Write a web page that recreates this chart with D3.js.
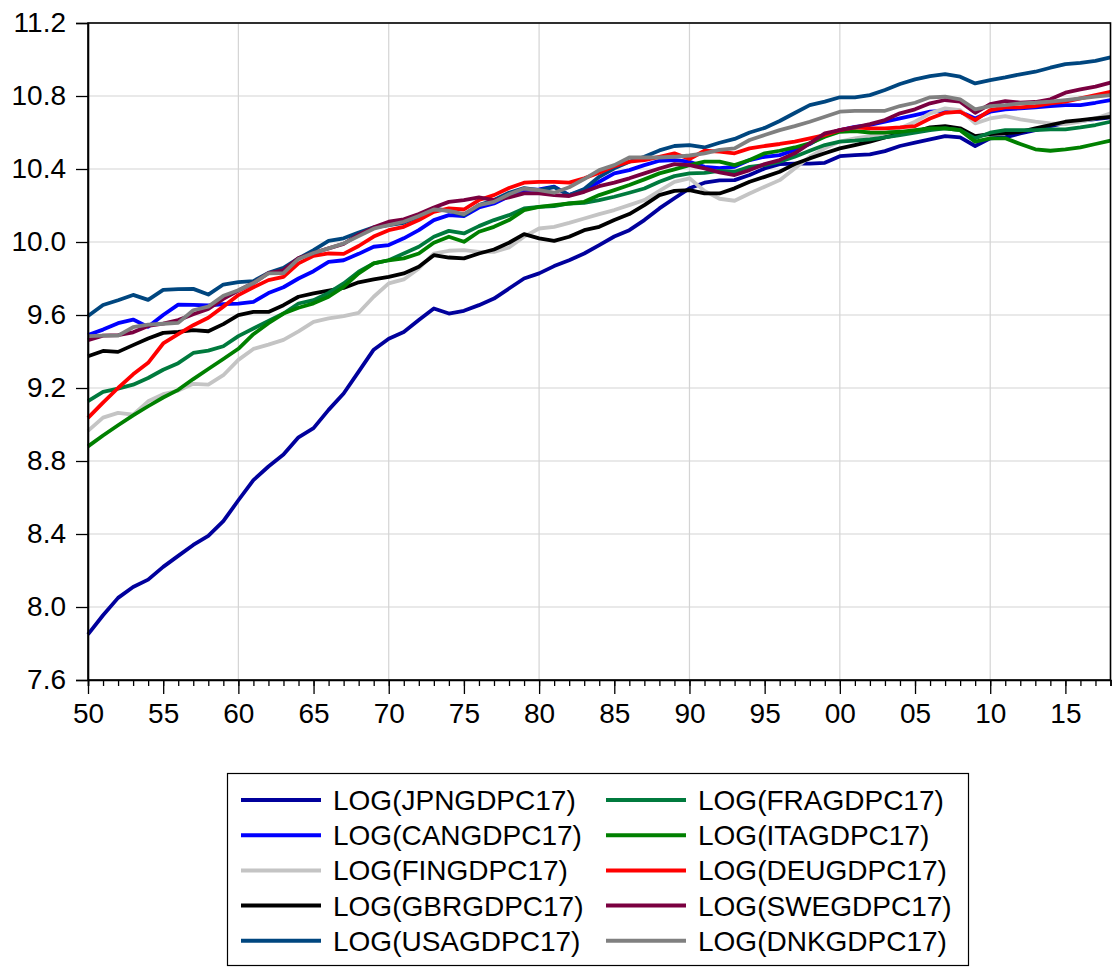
<!DOCTYPE html>
<html>
<head>
<meta charset="utf-8">
<script src="https://cdn.jsdelivr.net/npm/d3@7/dist/d3.min.js"></script>
<style>
  html, body { margin: 0; padding: 0; background: #fff; }
  svg { display: block; font-family: "Liberation Sans", Arial, Helvetica, sans-serif; }
</style>
</head>
<body>
<svg id="chart" width="1117" height="970"></svg>
<script>
const years = d3.range(1950, 2019);
const yTicks = [7.6, 8.0, 8.4, 8.8, 9.2, 9.6, 10.0, 10.4, 10.8, 11.2];
const xMajorTicks = d3.range(1950, 2019, 5);
const xGridYears = [1960, 1970, 1980, 1990, 2000, 2010];

const seriesNames = ["LOG(JPNGDPC17)", "LOG(CANGDPC17)", "LOG(FINGDPC17)", "LOG(GBRGDPC17)", "LOG(USAGDPC17)",
                     "LOG(FRAGDPC17)", "LOG(ITAGDPC17)", "LOG(DEUGDPC17)", "LOG(SWEGDPC17)", "LOG(DNKGDPC17)"];
const seriesColors = ["#00009c", "#0000ff", "#c4c4c4", "#000000", "#00467f",
                      "#007a3d", "#008000", "#ff0000", "#7a0040", "#808080"];

const jpn = [7.85,7.955,8.05,8.11,8.15,8.22,8.28,8.34,8.39,8.47,
  8.585,8.695,8.77,8.835,8.93,8.98,9.08,9.17,9.29,9.41,
  9.47,9.507,9.572,9.636,9.608,9.623,9.654,9.69,9.745,9.80,
  9.828,9.868,9.90,9.937,9.983,10.03,10.065,10.12,10.184,10.24,
  10.294,10.325,10.338,10.339,10.367,10.403,10.427,10.43,10.43,10.434,
  10.47,10.476,10.48,10.498,10.526,10.544,10.562,10.58,10.573,10.526,
  10.568,10.573,10.595,10.613,10.635,10.653,10.664,10.674,10.683];
const can = [9.49,9.52,9.555,9.575,9.535,9.6,9.657,9.655,9.652,9.66,
  9.662,9.672,9.72,9.752,9.8,9.84,9.891,9.9,9.935,9.974,
  9.983,10.02,10.065,10.12,10.147,10.142,10.189,10.211,10.25,10.284,
  10.288,10.303,10.257,10.284,10.33,10.376,10.394,10.421,10.445,10.449,
  10.44,10.412,10.405,10.412,10.449,10.467,10.476,10.504,10.537,10.586,
  10.613,10.631,10.641,10.659,10.677,10.695,10.714,10.719,10.714,10.677,
  10.714,10.727,10.732,10.738,10.745,10.75,10.75,10.763,10.778];
const fin = [8.965,9.038,9.064,9.054,9.127,9.166,9.186,9.223,9.218,9.27,
  9.354,9.414,9.438,9.464,9.51,9.562,9.581,9.594,9.612,9.7,
  9.773,9.795,9.855,9.937,9.952,9.955,9.946,9.946,9.97,10.029,
  10.074,10.083,10.105,10.129,10.153,10.175,10.202,10.23,10.28,10.33,
  10.349,10.28,10.237,10.226,10.266,10.303,10.339,10.403,10.467,10.513,
  10.55,10.568,10.58,10.595,10.623,10.659,10.705,10.732,10.723,10.65,
  10.677,10.69,10.672,10.659,10.65,10.646,10.659,10.677,10.705];
const gbr = [9.374,9.403,9.398,9.435,9.471,9.502,9.507,9.517,9.511,9.55,
  9.599,9.617,9.617,9.654,9.7,9.718,9.734,9.748,9.779,9.795,
  9.809,9.828,9.864,9.928,9.915,9.91,9.937,9.959,9.996,10.043,
  10.02,10.006,10.029,10.065,10.083,10.12,10.153,10.202,10.257,10.28,
  10.284,10.266,10.266,10.294,10.33,10.357,10.385,10.427,10.458,10.486,
  10.513,10.531,10.55,10.573,10.591,10.604,10.628,10.635,10.623,10.58,
  10.591,10.595,10.604,10.623,10.641,10.659,10.668,10.677,10.686];
const usa = [9.595,9.655,9.681,9.71,9.683,9.738,9.742,9.743,9.712,9.767,
  9.78,9.786,9.831,9.858,9.91,9.955,10.006,10.02,10.052,10.08,
  10.093,10.105,10.138,10.184,10.171,10.147,10.202,10.23,10.27,10.295,
  10.284,10.301,10.257,10.29,10.357,10.404,10.44,10.467,10.502,10.526,
  10.531,10.518,10.544,10.565,10.6,10.625,10.663,10.707,10.75,10.769,
  10.793,10.793,10.805,10.833,10.866,10.891,10.909,10.92,10.906,10.869,
  10.887,10.902,10.919,10.933,10.955,10.975,10.982,10.992,11.012];
const fra = [9.128,9.179,9.197,9.218,9.255,9.3,9.336,9.392,9.405,9.429,
  9.484,9.526,9.568,9.608,9.663,9.681,9.721,9.773,9.837,9.883,
  9.9,9.937,9.974,10.029,10.061,10.047,10.087,10.12,10.147,10.184,
  10.193,10.197,10.211,10.215,10.23,10.248,10.27,10.293,10.33,10.361,
  10.376,10.379,10.39,10.385,10.412,10.421,10.44,10.467,10.5,10.531,
  10.55,10.555,10.562,10.573,10.586,10.599,10.613,10.623,10.613,10.568,
  10.599,10.613,10.613,10.613,10.617,10.617,10.628,10.641,10.659];
const ita = [8.88,8.94,8.996,9.05,9.1,9.148,9.19,9.249,9.304,9.359,
  9.415,9.495,9.555,9.608,9.64,9.664,9.7,9.754,9.828,9.883,
  9.9,9.91,9.937,9.996,10.029,10.001,10.056,10.083,10.12,10.175,
  10.193,10.202,10.211,10.22,10.257,10.284,10.312,10.343,10.376,10.398,
  10.421,10.44,10.44,10.421,10.449,10.486,10.5,10.518,10.54,10.577,
  10.604,10.608,10.6,10.599,10.604,10.613,10.623,10.623,10.613,10.55,
  10.568,10.568,10.537,10.508,10.5,10.508,10.518,10.537,10.555];
const deu = [9.036,9.12,9.2,9.275,9.338,9.444,9.495,9.544,9.585,9.646,
  9.709,9.752,9.791,9.809,9.883,9.924,9.937,9.935,9.978,10.03,
  10.065,10.083,10.12,10.165,10.184,10.178,10.23,10.257,10.296,10.325,
  10.33,10.33,10.325,10.349,10.379,10.416,10.44,10.449,10.467,10.486,
  10.455,10.5,10.495,10.486,10.513,10.526,10.537,10.55,10.568,10.586,
  10.613,10.628,10.623,10.623,10.628,10.635,10.677,10.708,10.714,10.668,
  10.723,10.738,10.738,10.745,10.76,10.769,10.787,10.805,10.823];
const swe = [9.462,9.487,9.49,9.505,9.54,9.553,9.572,9.604,9.633,9.688,
  9.734,9.775,9.83,9.845,9.912,9.94,9.965,9.99,10.04,10.08,
  10.111,10.124,10.153,10.189,10.22,10.23,10.244,10.23,10.245,10.266,
  10.266,10.257,10.252,10.275,10.306,10.325,10.349,10.376,10.403,10.427,
  10.421,10.403,10.382,10.367,10.394,10.427,10.449,10.486,10.54,10.595,
  10.613,10.628,10.646,10.668,10.705,10.727,10.76,10.778,10.769,10.708,
  10.756,10.772,10.763,10.767,10.782,10.818,10.836,10.851,10.873];
const dnk = [9.484,9.487,9.487,9.533,9.547,9.552,9.557,9.626,9.646,9.705,
  9.736,9.775,9.828,9.83,9.907,9.94,9.965,9.992,10.032,10.073,
  10.093,10.111,10.142,10.178,10.171,10.153,10.202,10.22,10.262,10.293,
  10.284,10.27,10.3,10.345,10.394,10.421,10.463,10.463,10.463,10.467,
  10.474,10.486,10.505,10.513,10.559,10.586,10.613,10.635,10.659,10.686,
  10.714,10.719,10.719,10.719,10.745,10.763,10.793,10.796,10.782,10.727,
  10.745,10.75,10.76,10.763,10.769,10.778,10.787,10.796,10.805];

const seriesValues = [jpn, can, fin, gbr, usa, fra, ita, deu, swe, dnk];

const svg = d3.select("#chart");
const pLeft = 88, pRight = 1110.5, pTop = 23, pBottom = 680;

const x = d3.scaleLinear().domain([1950, 2018]).range([pLeft, pRight]);
const y = d3.scaleLinear().domain([7.6, 11.2]).range([pBottom, pTop]);

// gridlines
const grid = svg.append("g");
grid.selectAll("line.h").data(yTicks).join("line")
  .attr("class", "h")
  .attr("x1", pLeft).attr("x2", pRight)
  .attr("y1", d => y(d)).attr("y2", d => y(d))
  .attr("stroke", "#d4d4d4").attr("stroke-width", 1.2);
grid.selectAll("line.v").data(xGridYears).join("line")
  .attr("class", "v")
  .attr("y1", pTop).attr("y2", pBottom)
  .attr("x1", d => x(d)).attr("x2", d => x(d))
  .attr("stroke", "#d4d4d4").attr("stroke-width", 1.2);

// lines
const line = d3.line().x((d, i) => x(years[i])).y(d => y(d));
const plot = svg.append("g");
seriesValues.forEach((vals, k) => {
  plot.append("path").datum(vals)
    .attr("d", line)
    .attr("fill", "none")
    .attr("stroke", seriesColors[k])
    .attr("stroke-width", 3.8)
    .attr("stroke-linejoin", "round");
});

// frame
svg.append("rect")
  .attr("x", pLeft).attr("y", pTop)
  .attr("width", pRight - pLeft).attr("height", pBottom - pTop)
  .attr("fill", "none").attr("stroke", "#000").attr("stroke-width", 1.6);

// y axis
const yAxis = svg.append("g").attr("transform", `translate(${pLeft},0)`)
  .call(d3.axisLeft(y).tickValues(yTicks).tickSize(12).tickPadding(10).tickFormat(d3.format(".1f")));
yAxis.select(".domain").attr("stroke-width", 1.6);
yAxis.selectAll("line").attr("stroke-width", 1.3);
yAxis.selectAll("text").attr("font-size", 28).attr("fill", "#000")
  .attr("font-family", "'Liberation Sans', Arial, sans-serif");

// x axis minor
const xMinor = svg.append("g").attr("transform", `translate(0,${pBottom})`)
  .call(d3.axisBottom(x).tickValues(years).tickSize(6).tickFormat(""));
xMinor.select(".domain").attr("stroke-width", 1.6);
xMinor.selectAll("line").attr("stroke-width", 1.3);
// x axis major
const xMajor = svg.append("g").attr("transform", `translate(0,${pBottom})`)
  .call(d3.axisBottom(x).tickValues(xMajorTicks).tickSize(14).tickPadding(9)
    .tickFormat(d => String(d % 100).padStart(2, "0")));
xMajor.select(".domain").remove();
xMajor.selectAll("line").attr("stroke-width", 1.3);
xMajor.selectAll("text").attr("font-size", 28).attr("fill", "#000")
  .attr("font-family", "'Liberation Sans', Arial, sans-serif");

// legend
const lg = svg.append("g");
lg.append("rect").attr("x", 227.5).attr("y", 773.5).attr("width", 741).attr("height", 192)
  .attr("fill", "#fff").attr("stroke", "#000").attr("stroke-width", 1.2);
seriesNames.forEach((name, k) => {
  const col = Math.floor(k / 5), row = k % 5;
  const lx = col === 0 ? 241 : 606;
  const ly = 800 + row * 35.2;
  lg.append("line").attr("x1", lx).attr("x2", lx + 80)
    .attr("y1", ly).attr("y2", ly)
    .attr("stroke", seriesColors[k]).attr("stroke-width", 4);
  lg.append("text").attr("x", lx + 92).attr("y", ly).attr("dy", "0.36em")
    .attr("font-size", 28).attr("fill", "#000")
    .text(name);
});
</script>
</body>
</html>
